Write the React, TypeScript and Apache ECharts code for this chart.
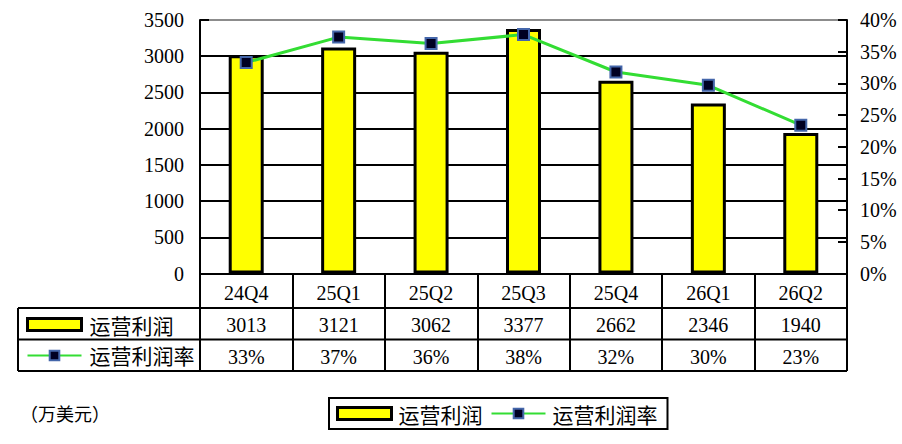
import React, { useEffect, useRef } from "react";
import * as echarts from "echarts";

// ---- data ----
const categories = ["24Q4", "25Q1", "25Q2", "25Q3", "25Q4", "26Q1", "26Q2"];
const operatingProfit = [3013, 3121, 3062, 3377, 2662, 2346, 1940];
const operatingMargin = [33.3, 37.3, 36.3, 37.7, 31.8, 29.7, 23.4];
const leftAxisTicks = { min: 0, max: 3500, interval: 500 };
const rightAxisTicks = { min: 0, max: 40, interval: 5 };
const barName = "运营利润";
const lineName = "运营利润率";
const unitLabel = "（万美元）";

// ---- layout ----
const W = 902;
const H = 444;
const GL = 200;
const GR = 847;
const GT = 20;
const GB = 273.6;
const ROW1_BOTTOM = 308;
const ROW2_BOTTOM = 339.5;
const ROW3_BOTTOM = 371;
const TABLE_LEFT = 18;

const NUM_FONT = "'Liberation Serif', 'Noto Sans CJK SC', serif";
const CJK_FONT = "'Noto Sans CJK SC', sans-serif";

export default function App() {
  const ref = useRef<HTMLDivElement>(null);

  useEffect(() => {
    if (!ref.current) return;
    const chart = echarts.init(ref.current, undefined, { renderer: "svg" });

    const rowLabel = (fs: number) => ({
      interval: 0,
      fontSize: fs,
      color: "#000",
      fontFamily: NUM_FONT,
    });

    const lineColors = leftAxisTicks.max / leftAxisTicks.interval;
    const splitColors: string[] = [];
    for (let i = 0; i < lineColors; i++) splitColors.push("#000");
    splitColors.push("#8c8c8c");

    const legendData = [
      { name: barName, icon: "rect", itemStyle: { borderWidth: 3 } },
      { name: lineName, itemStyle: { borderWidth: 2 } },
    ];

    const option: any = {
      animation: false,
      backgroundColor: "#fff",
      textStyle: { fontFamily: NUM_FONT, color: "#000" },
      grid: {
        left: GL,
        right: W - GR,
        top: GT,
        bottom: H - GB,
        containLabel: false,
        outerBoundsMode: "none",
      },
      xAxis: [
        {
          type: "category",
          data: categories,
          boundaryGap: true,
          position: "bottom",
          axisLine: { show: true, lineStyle: { color: "#000", width: 2 } },
          axisTick: {
            show: true,
            inside: false,
            interval: 0,
            length: ROW3_BOTTOM - GB,
            lineStyle: { color: "#000", width: 2 },
          },
          axisLabel: { ...rowLabel(20), margin: 9 },
          splitLine: { show: false },
        },
        {
          type: "category",
          data: operatingProfit.map((v) => String(v)),
          position: "bottom",
          offset: ROW1_BOTTOM - GB,
          axisLine: { show: false },
          axisTick: { show: false },
          splitLine: { show: false },
          axisLabel: { ...rowLabel(20), margin: 7 },
        },
        {
          type: "category",
          data: operatingMargin.map((v) => Math.round(v) + "%"),
          position: "bottom",
          offset: ROW2_BOTTOM - GB,
          axisLine: { show: false },
          axisTick: { show: false },
          splitLine: { show: false },
          axisLabel: { ...rowLabel(20), margin: 7 },
        },
      ],
      yAxis: [
        {
          type: "value",
          position: "left",
          min: leftAxisTicks.min,
          max: leftAxisTicks.max,
          interval: leftAxisTicks.interval,
          axisLine: { show: true, lineStyle: { color: "#000", width: 2 } },
          axisTick: { show: true, inside: true, length: 9, lineStyle: { color: "#000", width: 2 } },
          axisLabel: {
            fontSize: 20,
            color: "#000",
            margin: 16,
            fontFamily: NUM_FONT,
            formatter: (v: number) => String(v),
          },
          splitLine: { show: true, lineStyle: { color: splitColors, width: 2 } },
        },
        {
          type: "value",
          position: "right",
          min: rightAxisTicks.min,
          max: rightAxisTicks.max,
          interval: rightAxisTicks.interval,
          axisLine: { show: true, lineStyle: { color: "#000", width: 2 } },
          axisTick: { show: true, inside: true, length: 9, lineStyle: { color: "#000", width: 2 } },
          axisLabel: {
            fontSize: 20,
            color: "#000",
            margin: 13,
            formatter: (v: number) => v + "%",
            fontFamily: NUM_FONT,
          },
          splitLine: { show: false },
        },
      ],
      legend: [
        {
          orient: "vertical",
          left: 26,
          top: 314,
          itemWidth: 54,
          itemHeight: 12,
          itemGap: 10,
          padding: 0,
          selectedMode: false,
          data: legendData,
          textStyle: { fontSize: 21, fontFamily: CJK_FONT, color: "#000", padding: [0, 0, 0, 3] },
        },
        {
          orient: "horizontal",
          left: 329,
          top: 398,
          itemWidth: 54,
          itemHeight: 12,
          itemGap: 8,
          padding: [5, 10, 5, 7],
          borderColor: "#000",
          borderWidth: 2,
          selectedMode: false,
          data: legendData,
          textStyle: { fontSize: 21, fontFamily: CJK_FONT, color: "#000", padding: [0, 0, 0, 2] },
        },
      ],
      graphic: [
        ...[ROW1_BOTTOM, ROW2_BOTTOM, ROW3_BOTTOM].map((y) => ({
          type: "line",
          silent: true,
          shape: { x1: TABLE_LEFT, y1: y, x2: GR, y2: y },
          style: { stroke: "#000", lineWidth: 2 },
        })),
        {
          type: "line",
          silent: true,
          shape: { x1: TABLE_LEFT, y1: ROW1_BOTTOM, x2: TABLE_LEFT, y2: ROW3_BOTTOM },
          style: { stroke: "#000", lineWidth: 2 },
        },
        {
          type: "text",
          left: 20,
          top: 404,
          silent: true,
          style: { text: unitLabel, fontSize: 18, fill: "#000", fontFamily: CJK_FONT },
        },
      ],
      series: [
        {
          type: "bar",
          name: barName,
          xAxisIndex: 0,
          yAxisIndex: 0,
          data: operatingProfit,
          barWidth: 35,
          itemStyle: { color: "#FFFF00", borderColor: "#000", borderWidth: 3 },
          z: 2,
        },
        {
          type: "line",
          name: lineName,
          xAxisIndex: 0,
          yAxisIndex: 1,
          data: operatingMargin,
          symbol: "rect",
          symbolSize: 11,
          lineStyle: { color: "#33DD33", width: 3 },
          itemStyle: { color: "#000022", borderColor: "#4466AA", borderWidth: 2 },
          z: 3,
        },
      ],
    };

    chart.setOption(option);
    return () => chart.dispose();
  }, []);

  return (
    <div
      ref={ref}
      style={{ position: "fixed", left: 0, top: 0, width: W, height: H, background: "#fff" }}
    />
  );
}
